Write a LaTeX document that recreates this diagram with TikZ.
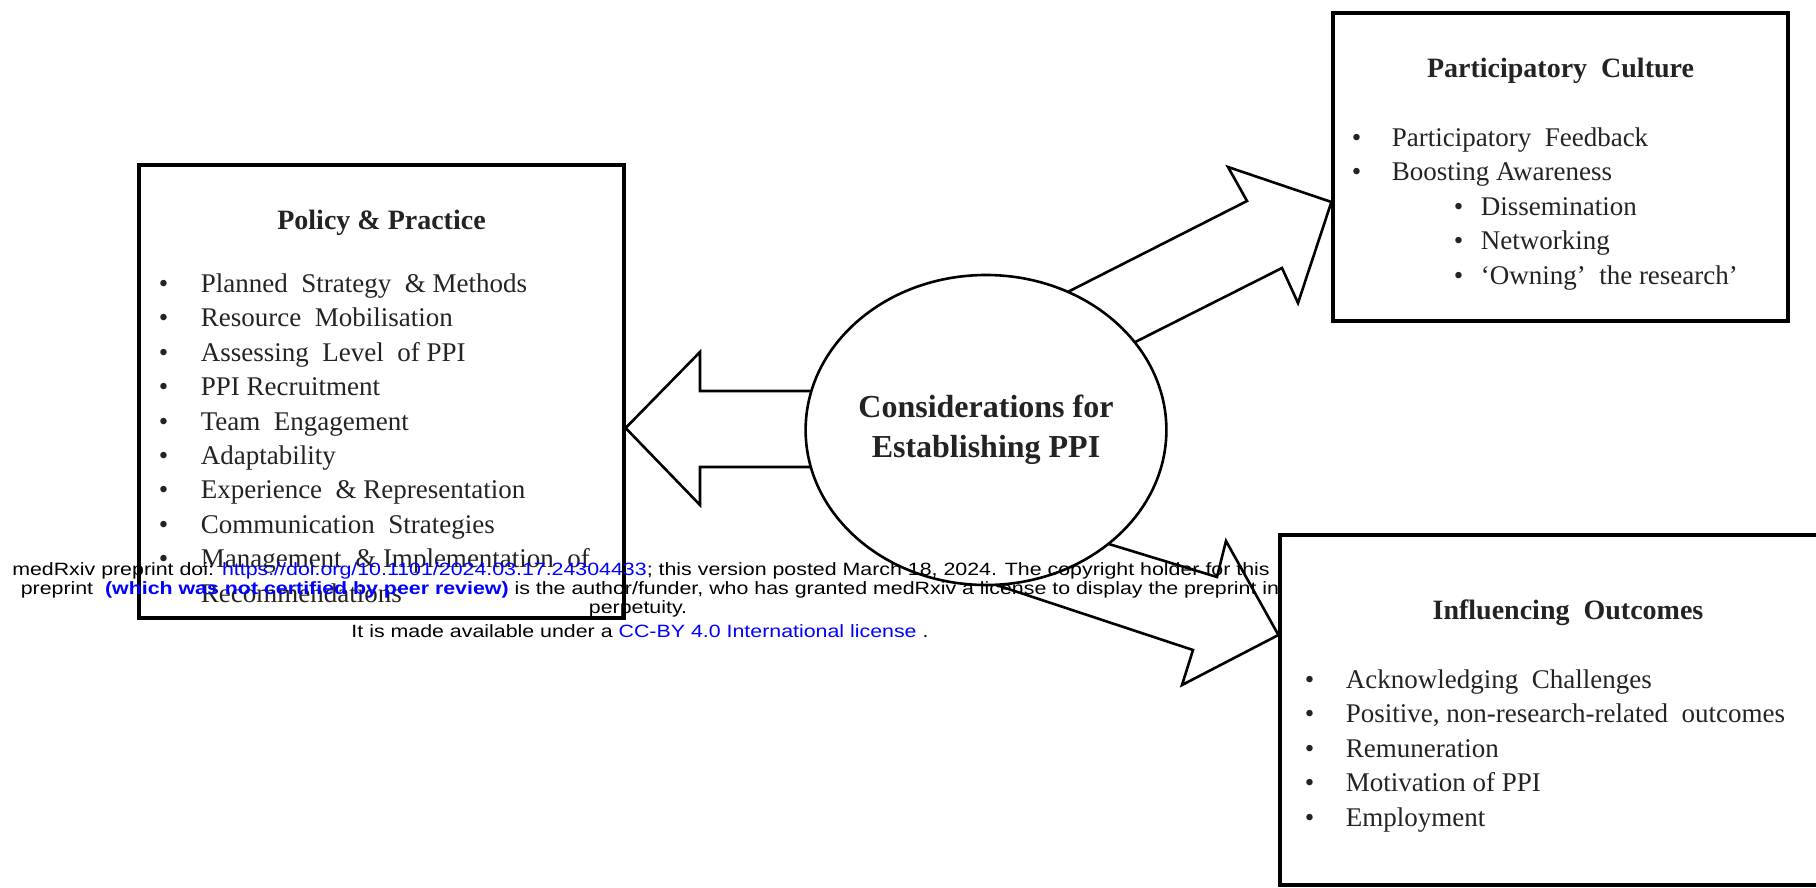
\documentclass[tikz,border=0pt]{standalone}
\usepackage{fontspec}
\setmainfont{Liberation Serif}
\newfontfamily\wmfont[FakeStretch=1.2]{Liberation Sans}
\usetikzlibrary{positioning,shapes.geometric}
\definecolor{wmblue}{RGB}{0,0,255}
\definecolor{inkgray}{RGB}{35,35,35}
\newcommand{\bul}[1][21pt]{\makebox[#1][l]{\textbullet}}
\begin{document}
\begin{tikzpicture}[
    x=0.5pt, y=-0.5pt,
    frame/.style = {draw, rectangle, line width=1.6pt, inner sep=0pt},
    boxtitle/.style = {font=\fontsize{14}{17}\selectfont\bfseries, inner sep=0pt, text=inkgray},
    itemlist/.style = {font=\fontsize{13.5}{17.2}\selectfont, align=left, inner sep=0pt, text=inkgray},
    hub/.style = {draw, ellipse, line width=1.3pt, fill=white, inner sep=0pt,
                  minimum width=179pt, minimum height=155pt, align=center,
                  font=\fontsize{16}{20}\selectfont\bfseries, text=inkgray},
    fatarrow/.style = {draw, line width=1.3pt, fill=white, line join=miter},
    wmtext/.style = {font=\wmfont\fontsize{8.9}{11}\selectfont, inner sep=0pt, anchor=mid}
  ]
  \useasboundingbox (0,0) rectangle (1816,888);
  \clip (0,0) rectangle (1816,888);

  % the three boxes
  \node[frame, minimum width=242.5pt, minimum height=226.5pt] (pp) at (381.5,391.5) {};
  \node[frame, minimum width=227.5pt, minimum height=154pt] (pc) at (1560.5,167) {};
  \node[frame, minimum width=280pt, minimum height=175pt] (io) at (1560,710) {};

  \node[boxtitle, below=23pt of pp.north] (ppTitle) {Policy \& Practice};
  \node[boxtitle, below=23pt of pc.north] (pcTitle) {Participatory\ \ Culture};
  \node[boxtitle, below=33pt of io.north, xshift=4pt] (ioTitle) {Influencing\ \ Outcomes};

  \node[itemlist, below right=55pt and 10.5pt of pp.north west] (ppList) {%
    \bul Planned\ \ Strategy\ \ \& Methods\\
    \bul Resource\ \ Mobilisation\\
    \bul Assessing\ \ Level\ \ of PPI\\
    \bul PPI Recruitment\\
    \bul Team\ \ Engagement\\
    \bul Adaptability\\
    \bul Experience\ \ \& Representation\\
    \bul Communication\ \ Strategies\\
    \bul Management\ \ \& Implementation\ \ of\\
    \hspace*{21pt}Recommendations};
  \node[itemlist, below right=58pt and 10pt of pc.north west] (pcList) {%
    \bul[20pt]Participatory\ \ Feedback\\
    \bul[20pt]Boosting Awareness\\
    \hspace*{51pt}\bul[13.5pt]Dissemination\\
    \hspace*{51pt}\bul[13.5pt]Networking\\
    \hspace*{51pt}\bul[13.5pt]`Owning'\ \ the research'};
  \node[itemlist, below right=68pt and 13pt of io.north west] (ioList) {%
    \bul[20.5pt]Acknowledging\ \ Challenges\\
    \bul[20.5pt]Positive, non-research-related\ \ outcomes\\
    \bul[20.5pt]Remuneration\\
    \bul[20.5pt]Motivation of PPI\\
    \bul[20.5pt]Employment};

  % block arrows, their tails hidden under the hub
  \coordinate (ppTip) at (pp.east |- 0,428);
  \coordinate (pcTip) at (pc.west |- 0,202);
  \coordinate (ioTip) at (io.west |- 0,635);
  \draw[fatarrow] (900,391) -- (700,391) -- (700,352) -- (ppTip)
    -- (700,505) -- (700,467) -- (900,467) -- cycle;
  \draw[fatarrow] (979,337) -- (1247,201) -- (1228,167) -- (pcTip)
    -- (1298,303) -- (1282,268) -- (1046,387) -- cycle;
  \draw[fatarrow] (1017,516) -- (1217,577) -- (1226,541) -- (ioTip)
    -- (1182,685) -- (1193,650) -- (942,567) -- cycle;

  \node[hub] (hub) at (986,430) {Considerations for\\Establishing PPI};

  % preprint notice on top
  \node[wmtext] (wm1) at (641,571) {medRxiv preprint doi: \textcolor{wmblue}{https://doi.org/10.1101/2024.03.17.24304433}; this version posted March 18, 2024. The copyright holder for this};
  \node[wmtext] (wm2) at (650,590) {preprint \ \textcolor{wmblue}{\bfseries (which was not certified by peer review)} is the author/funder, who has granted medRxiv a license to display the preprint in};
  \node[wmtext] (wm3) at (638,609) {perpetuity.};
  \node[wmtext] (wm4) at (640,633) {It is made available under a \textcolor{wmblue}{CC-BY 4.0 International license} .};
\end{tikzpicture}
\end{document}
